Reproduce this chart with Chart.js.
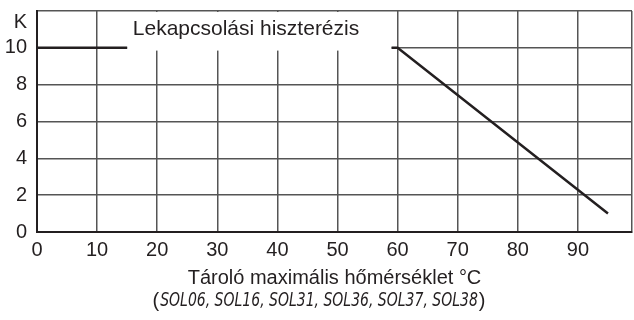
<!DOCTYPE html>
<html lang="hu">
<head>
<meta charset="UTF-8">
<title>Lekapcsolási hiszterézis</title>
<script src="https://cdn.jsdelivr.net/npm/chart.js"></script>
<style>
  html, body { margin: 0; padding: 0; background: #fff; }
  #wrap { width: 634px; height: 320px; }
</style>
</head>
<body>
<div id="wrap"><canvas id="chart" width="634" height="320"></canvas></div>
<script>
// hysteresis curve: flat part at the start, then the falling branch
const flatPart = [{ x: 0, y: 10 }, { x: 15, y: 10 }];
const slopePart = [{ x: 59, y: 10 }, { x: 60, y: 10 }, { x: 95, y: 1 }];
const xTicks = [0, 10, 20, 30, 40, 50, 60, 70, 80, 90];
const yTicks = [0, 2, 4, 6, 8, 10];
const yUnit = 'K';
const curveLabel = 'Lekapcsolási hiszterézis';
const xTitle = 'Tároló maximális hőmérséklet °C';
const models = 'SOL06, SOL16, SOL31, SOL36, SOL37, SOL38';

const FONT = '"Liberation Sans", Arial, sans-serif';
const INK = '#231f20';
const GRID = '#555555';

// white box with the curve label, plus the unit and model list
const annotations = {
  id: 'annotations',
  beforeDatasetsDraw(chart) {
    const { ctx, scales: { x, y } } = chart;
    ctx.save();
    const x0 = x.getPixelForValue(15), x1 = x.getPixelForValue(59);
    const yTop = y.getPixelForValue(12) + 1, yBot = y.getPixelForValue(9.85);
    ctx.fillStyle = '#fff';
    ctx.fillRect(x0, yTop, x1 - x0, yBot - yTop);
    ctx.fillStyle = INK;
    ctx.font = '21px ' + FONT;
    ctx.textAlign = 'center';
    ctx.textBaseline = 'middle';
    ctx.fillText(curveLabel, 246, 29);
    ctx.restore();
  },
  afterDraw(chart) {
    const { ctx } = chart;
    ctx.save();
    ctx.fillStyle = INK;
    ctx.textBaseline = 'middle';
    ctx.font = '20px ' + FONT;
    ctx.textAlign = 'right';
    ctx.fillText(yUnit, 27, 22);

    // model list line under the axis title, narrow italic between plain brackets
    const open = '(', close = ')';
    const normal = '20px ' + FONT;
    const ital = 'italic 20px "DejaVu Sans", sans-serif';
    const squeeze = 0.7;
    ctx.font = normal;
    const wo = ctx.measureText(open).width, wc = ctx.measureText(close).width;
    ctx.font = ital;
    const wm = ctx.measureText(models).width * squeeze;
    let px = 318 - (wo + wm + wc) / 2;
    const py = 301;
    ctx.textAlign = 'left';
    ctx.font = normal; ctx.fillText(open, px, py); px += wo + 1;
    ctx.font = ital;
    ctx.save();
    ctx.translate(px, py);
    ctx.scale(squeeze, 1);
    ctx.fillText(models, 0, 0);
    ctx.restore();
    px += wm + 1;
    ctx.font = normal; ctx.fillText(close, px, py);
    ctx.restore();
  }
};

new Chart(document.getElementById('chart'), {
  type: 'scatter',
  data: {
    datasets: [
      { data: flatPart, showLine: true, borderColor: INK, borderWidth: 2.5, pointRadius: 0, fill: false },
      { data: slopePart, showLine: true, borderColor: INK, borderWidth: 2.5, pointRadius: 0, fill: false }
    ]
  },
  options: {
    responsive: false,
    animation: false,
    layout: { padding: { top: 11, right: 2, left: 0, bottom: 0 } },
    plugins: { legend: { display: false }, tooltip: { enabled: false } },
    scales: {
      x: {
        type: 'linear',
        min: 0,
        max: 99,
        afterBuildTicks(scale) {
          scale.ticks = xTicks.map(v => ({ value: v })).concat([{ value: 99 }]);
        },
        afterFit(scale) {
          scale.height = 88;
          scale.paddingLeft = 0;
          scale.paddingRight = 0;
        },
        ticks: {
          color: INK,
          font: { size: 20, family: FONT },
          padding: 6,
          maxRotation: 0,
          callback: v => (xTicks.includes(v) ? String(v) : '')
        },
        grid: { color: GRID, lineWidth: 1.5, drawTicks: false },
        border: { color: INK, width: 2 },
        title: {
          display: true,
          text: xTitle,
          color: INK,
          font: { size: 20, family: FONT },
          padding: { top: 0, bottom: 30 }
        }
      },
      y: {
        min: 0,
        max: 12,
        afterBuildTicks(scale) {
          scale.ticks = yTicks.map(v => ({ value: v })).concat([{ value: 12 }]);
        },
        afterFit(scale) {
          scale.width = 37;
          scale.paddingTop = 0;
          scale.paddingBottom = 0;
        },
        ticks: {
          color: INK,
          font: { size: 20, family: FONT },
          padding: 10,
          callback: v => (yTicks.includes(v) ? String(v) : '')
        },
        grid: { color: GRID, lineWidth: 1.5, drawTicks: false },
        border: { color: INK, width: 2 }
      }
    }
  },
  plugins: [annotations]
});
</script>
</body>
</html>
